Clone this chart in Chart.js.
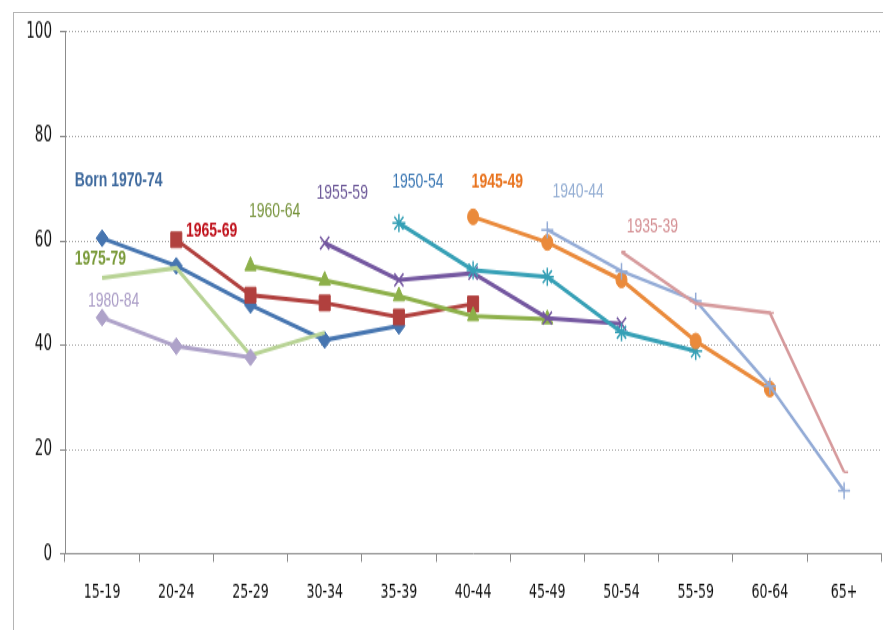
<!DOCTYPE html>
<html>
<head>
<meta charset="utf-8">
<script src="https://cdn.jsdelivr.net/npm/chart.js@4/dist/chart.umd.min.js"></script>
<style>
  html, body { margin: 0; padding: 0; background: #fff; }
  body { width: 883px; height: 630px; overflow: hidden; position: relative; }
  #frame { position: absolute; left: 13px; top: 12px; width: 900px; height: 640px;
           border-left: 1px solid #b4b4b4; border-top: 1px solid #b4b4b4; }
  /* the drawing is made on a shorter canvas and stretched to full height */
  #chart { position: absolute; left: 0; top: 0; transform: scaleY(1.4); transform-origin: 0 0; }
</style>
</head>
<body>
<div id="frame"></div>
<canvas id="chart" width="890" height="450"></canvas>
<script>
// Age groups along the horizontal axis
const ageGroups = ['15-19', '20-24', '25-29', '30-34', '35-39', '40-44', '45-49', '50-54', '55-59', '60-64', '65+'];
const yTicks = [0, 20, 40, 60, 80, 100];

// One series per birth cohort (percent), null where the cohort has no value
const born7074 = [60.5, 55.2, 47.7, 41.0, 43.7, null, null, null, null, null, null];
const born6569 = [null, 60.2, 49.6, 48.1, 45.4, 47.9, null, null, null, null, null];
const born6064 = [null, null, 55.2, 52.4, 49.4, 45.6, 45.0, null, null, null, null];
const born5559 = [null, null, null, 59.6, 52.5, 53.8, 45.2, 44.1, null, null, null];
const born5054 = [null, null, null, null, 63.4, 54.4, 53.1, 42.5, 38.9, null, null];
const born4549 = [null, null, null, null, null, 64.6, 59.7, 52.5, 40.8, 31.6, null];
const born4044 = [null, null, null, null, null, null, 62.1, 54.2, 48.5, 32.2, 12.1];
const born3539 = [null, null, null, null, null, null, null, 57.9, 48.0, 46.2, 15.7];
const born7579 = [52.9, 54.8, 38.1, 42.4, null, null, null, null, null, null, null];
const born8084 = [45.3, 39.8, 37.7, null, null, null, null, null, null, null, null];

// Cohort names written beside the lines
const cohortNames = ['Born 1970-74', '1965-69', '1960-64', '1955-59', '1950-54', '1945-49', '1940-44', '1935-39', '1975-79', '1980-84'];

const AXIS_FONT = '"DejaVu Sans Condensed", "Liberation Sans Narrow", "Liberation Serif", serif';

function series(data, color, style, radius, width) {
  const thin = style === 'cross' || style === 'crossRot' || style === 'star' || style === 'dash';
  return {
    data: data,
    borderColor: color,
    backgroundColor: color,
    borderWidth: width,
    pointStyle: style,
    pointRadius: radius,
    pointHoverRadius: radius,
    pointBorderWidth: thin ? 1.5 : 1,
    pointBorderColor: color,
    pointBackgroundColor: color,
    tension: 0,
    spanGaps: false
  };
}

const datasets = [
  series(born3539, '#d69a9c', 'dash', 4, 2.5),
  series(born4044, '#93abd6', 'cross', 6, 2.5),
  series(born4549, '#ea8a3b', 'circle', 5.5, 3),
  series(born5054, '#36a0b6', 'star', 6.5, 3),
  series(born5559, '#7457a0', 'crossRot', 6.5, 3),
  series(born6064, '#8db04a', 'triangle', 6.5, 3),
  series(born6569, '#b1403e', 'rect', 7.8, 3),
  series(born8084, '#aea2c9', 'rectRot', 6, 3),
  series(born7579, '#b8d395', 'circle', 0, 3),
  series(born7074, '#4675b0', 'rectRot', 6, 3)
];

// Text placement: [name, category position, value, colour, weight]
const nameSpots = [
  [cohortNames[0], -0.37, 71.5, '#3f6a9e', 'bold'],
  [cohortNames[1], 1.13, 61.9, '#c0121c', 'bold'],
  [cohortNames[2], 1.98, 65.5, '#77933c', 'normal'],
  [cohortNames[3], 2.89, 69.2, '#6e5a99', 'normal'],
  [cohortNames[4], 3.91, 71.1, '#3c78b4', 'normal'],
  [cohortNames[5], 4.98, 71.1, '#e8731e', 'bold'],
  [cohortNames[6], 6.07, 69.3, '#94aed3', 'normal'],
  [cohortNames[7], 7.07, 62.7, '#d48f93', 'normal'],
  [cohortNames[8], -0.37, 56.6, '#7a9a3a', 'bold'],
  [cohortNames[9], -0.19, 48.4, '#aa9cc6', 'normal']
];

const cohortLabels = {
  id: 'cohortLabels',
  afterDatasetsDraw(chart) {
    const ctx = chart.ctx;
    const xs = chart.scales.x, ys = chart.scales.y;
    const step = xs.getPixelForValue(1) - xs.getPixelForValue(0);
    ctx.save();
    ctx.textAlign = 'left';
    ctx.textBaseline = 'middle';
    nameSpots.forEach(([text, pos, val, color, weight]) => {
      ctx.font = weight + ' 14px "Liberation Sans", Arial, sans-serif';
      ctx.fillStyle = color;
      ctx.fillText(text, xs.getPixelForValue(0) + pos * step, ys.getPixelForValue(val));
    });
    ctx.restore();
  }
};

new Chart(document.getElementById('chart'), {
  type: 'line',
  data: { labels: ageGroups, datasets: datasets },
  plugins: [cohortLabels],
  options: {
    responsive: false,
    devicePixelRatio: 1,
    animation: false,
    layout: { padding: { top: 22.9, right: 4, left: 0, bottom: 0 } },
    plugins: { legend: { display: false }, tooltip: { enabled: false } },
    scales: {
      x: {
        type: 'category',
        offset: true,
        grid: { drawOnChartArea: false, drawTicks: true, tickLength: 5.7, color: '#8c8c8c', offset: true },
        border: { display: true, color: '#8c8c8c', width: 1 },
        ticks: { padding: 13.5, color: '#111', font: { family: AXIS_FONT, size: 14 }, maxRotation: 0 },
        afterFit(scale) { scale.height = 54.3; }
      },
      y: {
        min: 0, max: 100,
        afterBuildTicks(scale) { scale.ticks = yTicks.map(v => ({ value: v })); },
        grid: { color: '#a8a8a8', tickLength: 5, tickColor: '#8c8c8c', tickBorderDash: [] },
        border: { display: true, color: '#8c8c8c', width: 1, dash: [1, 2] },
        ticks: { padding: 8, color: '#111', font: { family: AXIS_FONT, size: 15 } },
        afterFit(scale) { scale.width = 65; }
      }
    }
  }
});
</script>
</body>
</html>
